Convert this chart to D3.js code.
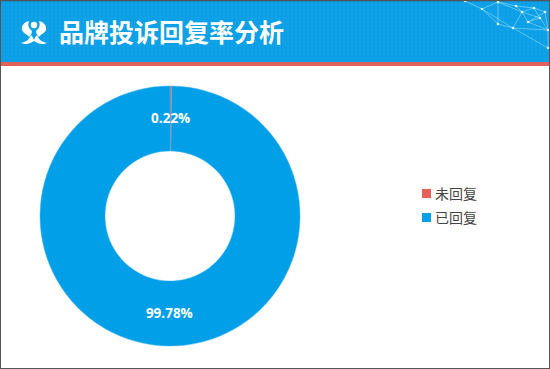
<!DOCTYPE html>
<html>
  <head>
    <meta charset="utf-8">
    <style>
      html, body { margin: 0; padding: 0; background: #fff; }
      svg { display: block; }
      text { font-family: "Noto Sans CJK SC", "Noto Sans", sans-serif; }
      .value { font-family: "Open Sans", "Noto Sans", sans-serif; font-weight: 700; font-size: 13.5px; fill: #fff; }
    </style>
    <script src="https://d3js.org/d3.v7.min.js" charset="utf-8"></script>
  </head>
  <body>
    <svg class="chart"></svg>
    <script>
      const categories = ["未回复", "已回复"];
      const values = [0.22, 99.78];
      const labels = ["0.22%", "99.78%"];
      const titleText = "品牌投诉回复率分析";
      const colors = ["#e8605a", "#009fe8"];

      const width = 550, height = 369;
      const svg = d3.select(".chart").attr("width", width).attr("height", height);

      // header band
      svg.append("rect").attr("width", width).attr("height", 62).attr("fill", "#0a9fe6");
      svg.append("rect").attr("width", width).attr("height", 1.5).attr("fill", "#1c6f98");
      svg.append("rect").attr("y", 62).attr("width", width).attr("height", 4).attr("fill", "#e0605c");

      // faint grid on the band
      const grid = svg.append("g").attr("stroke", "#2fb0ee").attr("stroke-width", 0.4).attr("opacity", 0.6);
      d3.range(0, width, 4).forEach(x => grid.append("line").attr("x1", x).attr("x2", x).attr("y1", 2).attr("y2", 62));
      d3.range(2, 62, 4).forEach(y => grid.append("line").attr("y1", y).attr("y2", y).attr("x1", 0).attr("x2", width));

      // network decoration, top right corner
      const nodes = [[465,1],[482,9],[498,2],[516,6],[522,12],[534,8],[540,18],[548,30],[498,24],[513,28],[548,48],[528,22],[545,12]];
      const links = [[0,1],[1,2],[2,3],[3,4],[4,5],[5,6],[6,7],[1,8],[2,8],[8,9],[9,4],[4,6],[9,7],[7,10],[3,5],[2,4],[11,4],[11,6],[11,7],[5,12],[12,7],[9,10],[1,9],[11,12]];
      const net = svg.append("g");
      links.forEach(l => net.append("line")
        .attr("x1", nodes[l[0]][0]).attr("y1", nodes[l[0]][1])
        .attr("x2", nodes[l[1]][0]).attr("y2", nodes[l[1]][1])
        .attr("stroke", "#9fe3fb").attr("stroke-width", 0.7).attr("opacity", 0.8));
      nodes.forEach(n => net.append("circle").attr("cx", n[0]).attr("cy", n[1]).attr("r", 1.3).attr("fill", "#d8f5ff"));

      // logo
      const logo = svg.append("g").attr("fill", "#fff");
      logo.append("path").attr("d", "M29 21 C24 22 21 26 22 30 C23 33 27 34 29 37 C31 35 32 33 32 31 C30 29 27 27 29 21 Z");
      logo.append("path").attr("d", "M39 21 C44 22 47 26 46 30 C45 33 41 34 39 37 C37 35 36 33 36 31 C38 29 41 27 39 21 Z");
      logo.append("path").attr("d", "M21 43 C26 42 29 40 31 35 C33 37 34 39 34 41 C30 44 25 45 21 43 Z");
      logo.append("path").attr("d", "M47 43 C42 42 39 40 37 35 C35 37 34 39 34 41 C38 44 43 45 47 43 Z");
      logo.append("circle").attr("cx", 34).attr("cy", 25).attr("r", 3.2);

      svg.append("text").attr("x", 59).attr("y", 42)
        .attr("font-size", 25).attr("font-weight", 700).attr("fill", "#fff")
        .text(titleText);

      // donut
      const cx = 170, cy = 216, outer = 130, inner = 65;
      const pie = d3.pie().sort(null).startAngle(0).endAngle(2 * Math.PI);
      const arc = d3.arc().innerRadius(inner).outerRadius(outer);
      const arcs = pie(values);
      const g = svg.append("g").attr("transform", `translate(${cx}, ${cy})`);

      g.selectAll("path").data(arcs).enter().append("path")
        .attr("d", arc)
        .attr("fill", (d, i) => colors[i])
        .attr("stroke", (d, i) => i === 0 ? "#a9a0b0" : "#3fb4ec")
        .attr("stroke-width", 0.5);

      g.selectAll(".value").data(arcs).enter().append("text")
        .attr("class", "value")
        .attr("text-anchor", "middle")
        .attr("dy", "0.36em")
        .attr("transform", d => `translate(${arc.centroid(d)})`)
        .text((d, i) => labels[i]);

      // legend
      const legend = svg.append("g").selectAll("g").data(categories).enter().append("g")
        .attr("transform", (d, i) => `translate(422, ${189 + i * 24})`);
      legend.append("rect").attr("width", 9).attr("height", 9)
        .attr("fill", (d, i) => colors[i]);
      legend.append("text").attr("x", 13).attr("y", 9.5)
        .attr("font-size", 14).attr("fill", "#444")
        .text(d => d);

      // outer frame
      svg.append("rect").attr("x", 0.5).attr("y", 0.5).attr("width", width - 1).attr("height", height - 1)
        .attr("fill", "none").attr("stroke", "#555").attr("stroke-width", 1);
    </script>
  </body>
</html>
